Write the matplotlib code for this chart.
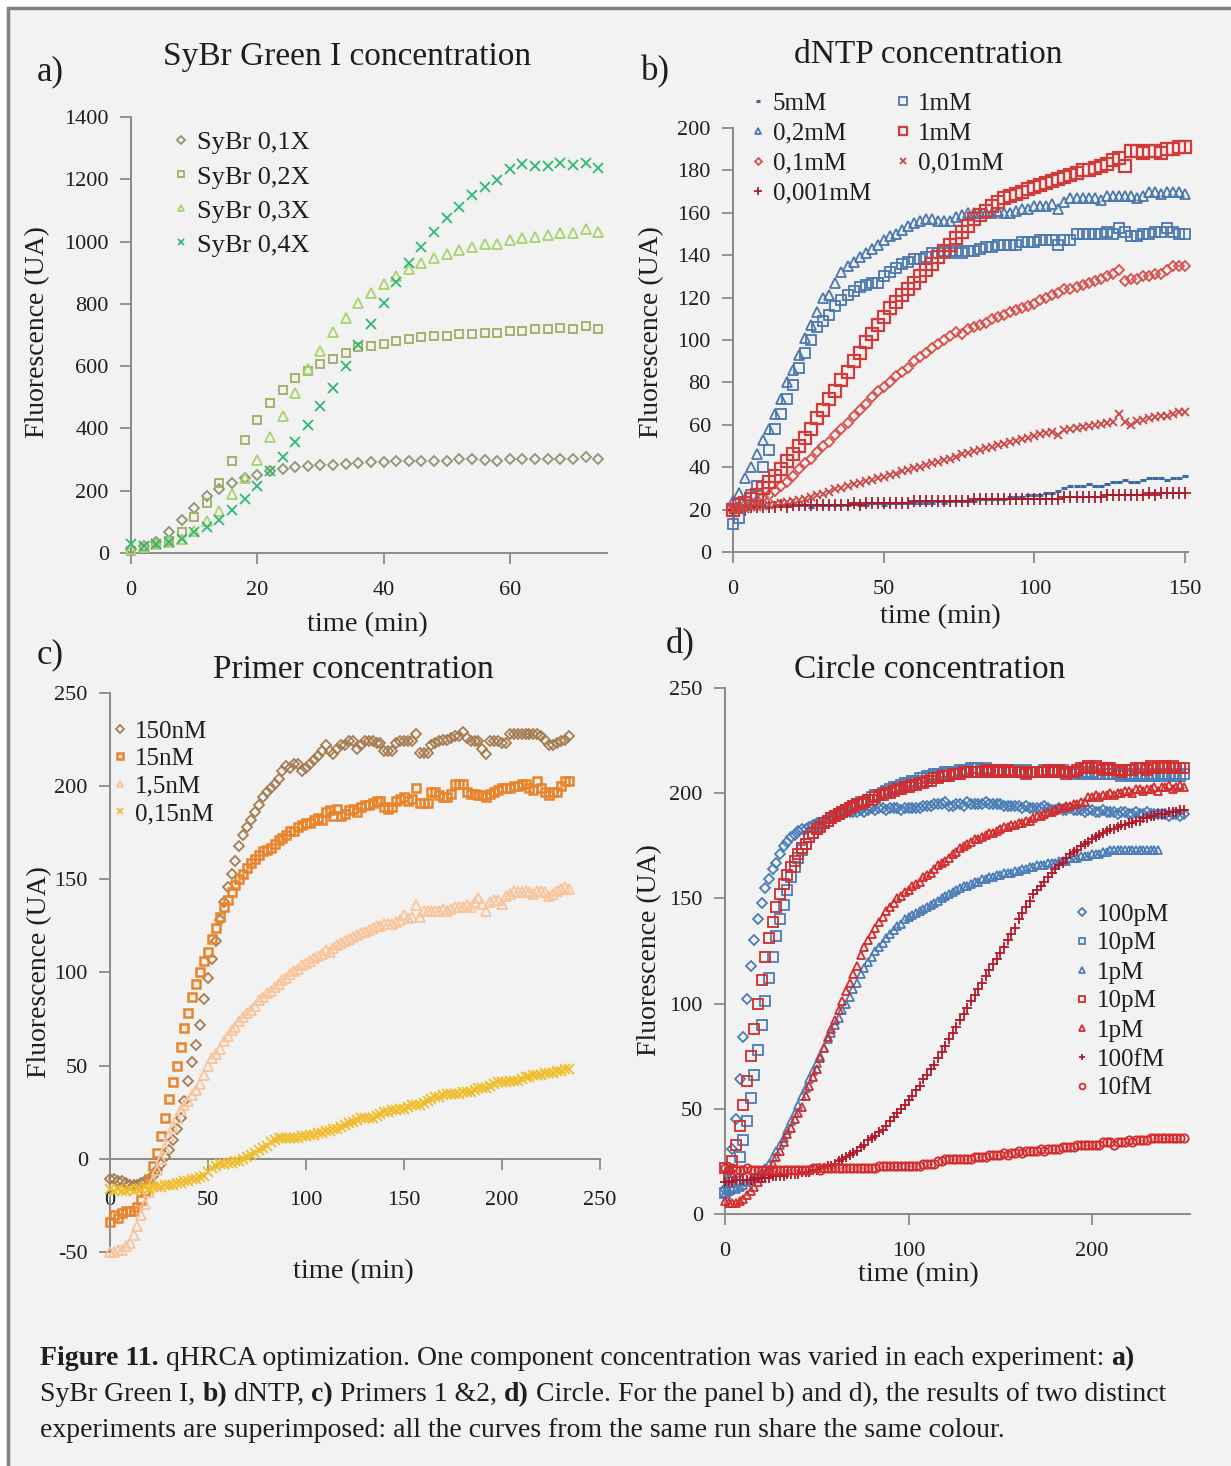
import numpy as np
import matplotlib
matplotlib.use("Agg")
import matplotlib.pyplot as plt
from matplotlib.patches import Rectangle

plt.rcParams['font.family'] = ['Liberation Serif', 'DejaVu Serif']
plt.rcParams['axes.unicode_minus'] = False

W, H = 1231, 1466
AX = '#8a8a8a'
TXT = '#1e1e1e'

# ── panel a: SyBr Green I (one reading every 2 min) ─────────────────────────
t_a = np.arange(0, 76, 2)
sybr_01 = [13, 23, 34, 69, 106, 146, 183, 207, 226, 242,
           252, 263, 270, 276, 279, 281, 284, 286, 290, 292,
           292, 297, 297, 297, 297, 297, 302, 302, 299, 297,
           302, 302, 302, 302, 302, 302, 308, 302]
sybr_02 = [7, 18, 29, 39, 68, 114, 162, 226, 297, 362,
           426, 481, 524, 563, 586, 606, 622, 641, 662, 666,
           670, 682, 687, 692, 696, 696, 702, 702, 707, 707,
           712, 714, 718, 718, 723, 718, 728, 718]
sybr_03 = [12, 20, 28, 35, 45, 70, 103, 135, 188, 242,
           300, 373, 441, 515, 590, 650, 709, 755, 804, 835,
           863, 890, 911, 931, 948, 961, 974, 983, 993, 993,
           1005, 1012, 1016, 1020, 1029, 1029, 1039, 1031]
sybr_04 = [29, 23, 29, 36, 45, 66, 82, 106, 138, 173,
           215, 263, 309, 357, 412, 471, 529, 599, 668, 735,
           804, 870, 931, 984, 1032, 1076, 1112, 1149, 1176, 1198,
           1232, 1248, 1243, 1243, 1253, 1245, 1253, 1237]

# ── panel b: dNTP ───────────────────────────────────────────────────────────
t_b = np.arange(0, 152, 2)
b_5mM = [22, 21, 22, 21, 22, 22, 21, 22, 22, 22,
         22, 22, 22, 21, 22, 22, 22, 22, 22, 22,
         23, 22, 22, 23, 23, 22, 23, 23, 23, 23,
         23, 23, 23, 23, 24, 23, 24, 24, 24, 24,
         24, 25, 25, 25, 25, 25, 26, 26, 26, 27,
         27, 27, 28, 28, 29, 30, 31, 31, 31, 32,
         31, 31, 32, 33, 33, 34, 33, 33, 34, 35,
         35, 35, 34, 35, 35, 36]
b_1mM_blue = [13, 16, 22, 27, 31, 40, 48, 58, 65, 72,
              79, 87, 94, 100, 106, 109, 112, 116, 119, 121,
              123, 125, 126, 127, 127, 130, 132, 134, 136, 137,
              138, 138, 139, 141, 141, 142, 141, 142, 141, 142,
              142, 143, 144, 144, 145, 145, 145, 145, 146, 146,
              146, 147, 147, 147, 145, 147, 147, 150, 150, 150,
              150, 150, 151, 150, 153, 151, 149, 149, 150, 150,
              151, 151, 153, 151, 150, 150]
b_02mM = [24, 28, 35, 40, 46, 53, 58, 65, 72, 80,
          86, 93, 101, 107, 113, 120, 121, 127, 132, 135,
          137, 139, 141, 143, 145, 147, 149, 150, 152, 154,
          155, 156, 157, 157, 156, 156, 156, 158, 159, 160,
          160, 160, 160, 160, 161, 160, 160, 161, 162, 162,
          163, 163, 163, 164, 162, 165, 167, 167, 167, 167,
          167, 166, 168, 168, 168, 168, 168, 167, 168, 170,
          170, 169, 170, 170, 170, 169]
b_1mM_red = [20, 22, 23, 25, 27, 30, 33, 36, 39, 43,
             46, 50, 54, 58, 63, 67, 72, 76, 81, 85,
             90, 94, 99, 103, 107, 111, 115, 118, 121, 124,
             127, 130, 133, 136, 139, 142, 145, 148, 151, 154,
             157, 159, 161, 163, 165, 167, 168, 169, 170, 171,
             172, 173, 174, 175, 176, 177, 178, 179, 180, 180,
             181, 182, 183, 185, 186, 182, 189, 189, 188, 189,
             189, 188, 190, 190, 191, 191]
b_01mM = [20, 21, 22, 23, 24, 26, 27, 29, 31, 33,
          36, 39, 42, 44, 47, 50, 52, 55, 58, 61,
          64, 67, 70, 73, 76, 78, 80, 83, 85, 87,
          90, 92, 94, 96, 98, 100, 102, 104, 103, 105,
          106, 107, 108, 110, 111, 112, 113, 114, 115, 116,
          117, 119, 120, 121, 122, 124, 124, 125, 126, 127,
          128, 129, 130, 131, 133, 128, 129, 129, 130, 130,
          131, 131, 133, 135, 135, 135]
b_001mM = [20, 20, 20.5, 21, 21, 21.5, 22, 22.5, 23, 23.5,
           24, 24.5, 25, 26, 27, 27.5, 28.5, 29.5, 30, 31,
           32, 32.5, 33.5, 34, 35, 35.5, 36.5, 37, 38, 38.5,
           39.5, 40, 41, 42, 42.5, 43.5, 44, 45, 46, 46.5,
           47.5, 48, 49, 49.5, 50.5, 51, 52, 52.5, 53.5, 54,
           54.5, 55.5, 56, 56.5, 55, 57.5, 58, 58.5, 59, 59.5,
           60, 60.5, 61, 61.5, 65, 61.5, 60, 62, 62.5, 63,
           63.5, 64, 64, 65, 66, 66]
b_0001mM = [20, 21, 20, 21, 21, 21, 21, 21, 22, 21,
            22, 22, 22, 22, 22, 22, 22, 22, 22, 22,
            23, 22, 23, 23, 23, 23, 23, 23, 23, 23,
            24, 24, 24, 24, 24, 24, 24, 24, 24, 24,
            25, 25, 25, 25, 25, 25, 25, 25, 25, 25,
            25, 25, 25, 25, 25, 26, 26, 26, 26, 26,
            26, 26, 27, 27, 27, 27, 27, 27, 27, 28,
            27, 28, 28, 28, 28, 28]

# ── panel c: primers ────────────────────────────────────────────────────────
t_c = np.arange(0, 236, 2)
c_150 = [-11, -11, -12, -12, -13, -14, -14, -14, -13, -12,
         -11, -9, -6, -3, 1, 5, 10, 16, 22, 31,
         42, 52, 61, 72, 86, 97, 107, 117, 128, 138,
         146, 153, 160, 168, 174, 178, 182, 186, 190, 194,
         197, 199, 201, 204, 208, 211, 210, 212, 212, 208,
         210, 212, 214, 216, 219, 222, 219, 217, 220, 222,
         222, 224, 224, 220, 222, 224, 224, 224, 223, 223,
         219, 219, 219, 223, 224, 224, 224, 224, 228, 218,
         218, 218, 222, 223, 224, 225, 225, 226, 227, 227,
         229, 226, 224, 224, 224, 220, 217, 224, 224, 224,
         223, 223, 228, 228, 228, 228, 228, 228, 228, 228,
         227, 225, 222, 222, 223, 224, 225, 227]
c_15 = [-34, -30, -32, -29, -28, -28, -28, -26, -22, -17,
        -11, -4, 3, 12, 22, 32, 41, 50, 60, 70,
        78, 87, 94, 100, 106, 111, 118, 124, 130, 135,
        139, 143, 147, 150, 153, 156, 159, 161, 163, 165,
        166, 167, 169, 171, 172, 174, 176, 176, 178, 179,
        180, 180, 182, 183, 182, 186, 187, 184, 188, 184,
        185, 187, 188, 186, 189, 190, 190, 191, 192, 192,
        189, 188, 189, 192, 193, 194, 192, 193, 199, 191,
        191, 191, 197, 197, 195, 194, 194, 196, 201, 201,
        201, 197, 196, 196, 195, 195, 194, 196, 197, 198,
        199, 199, 199, 200, 200, 201, 201, 199, 198, 203,
        199, 197, 195, 197, 197, 200, 203, 203]
c_1_5 = [-50, -50, -49, -49, -47, -45, -41, -36, -30, -24,
         -18, -12, -6, 0, 6, 12, 17, 22, 26, 29,
         31, 34, 37, 40, 45, 50, 54, 56, 59, 63,
         66, 69, 71, 74, 76, 78, 80, 82, 85, 87,
         89, 90, 92, 94, 96, 97, 99, 101, 102, 104,
         105, 106, 108, 109, 110, 112, 111, 113, 115, 116,
         117, 118, 119, 120, 121, 122, 123, 124, 125, 125,
         126, 126, 126, 127, 128, 131, 129, 130, 136, 130,
         133, 133, 133, 133, 133, 134, 133, 134, 135, 135,
         135, 136, 135, 138, 140, 137, 133, 138, 139, 139,
         137, 141, 142, 144, 143, 143, 144, 143, 142, 144,
         144, 143, 141, 142, 144, 145, 146, 145]
c_015 = [-16, -17, -16, -17, -17, -16, -17, -16, -16, -15,
         -16, -15, -15, -15, -14, -14, -14, -13, -13, -12,
         -12, -11, -11, -10, -9, -7, -5, -4, -3, -3,
         -2, -2, -1, -1, 0, 1, 2, 3, 5, 6,
         7, 9, 10, 11, 11, 11, 11, 11, 11, 12,
         12, 13, 13, 14, 14, 15, 15, 16, 16, 17,
         18, 19, 20, 21, 22, 22, 22, 22, 23, 24,
         25, 25, 26, 26, 27, 27, 28, 29, 29, 29,
         30, 31, 32, 33, 33, 34, 35, 35, 35, 35,
         36, 36, 36, 37, 38, 38, 38, 39, 40, 41,
         41, 41, 42, 42, 42, 43, 44, 44, 45, 45,
         45, 46, 46, 46, 47, 47, 48, 48]

# ── panel d: circle ─────────────────────────────────────────────────────────
t_d = np.arange(0, 252, 2)
d_100pM = [12, 20, 31, 45, 64, 84, 102, 118, 130, 140,
           148, 155, 159, 164, 167, 171, 175, 177, 179, 180,
           182, 183, 183, 184, 185, 186, 186, 187, 188, 188,
           189, 190, 190, 191, 191, 191, 191, 192, 191, 192,
           193, 192, 193, 193, 192, 193, 193, 193, 192, 193,
           193, 193, 193, 193, 194, 194, 194, 195, 195, 195,
           196, 194, 194, 195, 195, 194, 196, 195, 195, 195,
           195, 196, 195, 195, 195, 195, 194, 194, 194, 194,
           194, 193, 194, 193, 193, 193, 193, 194, 193, 192,
           192, 193, 192, 192, 193, 192, 192, 192, 191, 192,
           192, 191, 191, 192, 191, 191, 191, 190, 191, 191,
           190, 190, 191, 190, 190, 191, 190, 190, 190, 190,
           190, 189, 190, 190, 189, 190]
d_10pM_blue = [10, 12, 15, 20, 27, 35, 44, 55, 66, 78,
               90, 101, 112, 122, 132, 140, 147, 154, 160, 165,
               169, 173, 176, 179, 181, 183, 185, 186, 187, 188,
               189, 190, 191, 192, 193, 194, 195, 196, 196, 197,
               198, 199, 199, 200, 201, 202, 203, 203, 204, 205,
               205, 206, 206, 207, 207, 208, 208, 209, 209, 209,
               210, 210, 210, 210, 211, 211, 211, 212, 212, 212,
               211, 212, 211, 211, 211, 211, 210, 211, 210, 211,
               210, 210, 211, 210, 210, 210, 210, 211, 210, 211,
               210, 210, 211, 210, 210, 209, 210, 209, 210, 209,
               210, 209, 209, 209, 209, 209, 209, 209, 208, 209,
               209, 208, 208, 209, 208, 208, 209, 208, 208, 209,
               209, 208, 209, 208, 208, 209]
d_1pM_blue = [10, 11, 12, 12, 13, 14, 15, 16, 17, 18,
              20, 22, 24, 27, 30, 33, 36, 40, 44, 48,
              52, 56, 60, 64, 68, 72, 75, 79, 83, 86,
              90, 93, 97, 100, 103, 107, 110, 114, 117, 120,
              122, 125, 127, 129, 131, 133, 135, 137, 138, 140,
              141, 142, 143, 144, 145, 146, 147, 148, 149, 150,
              151, 152, 153, 154, 155, 156, 156, 157, 158, 158,
              159, 159, 160, 160, 161, 161, 162, 162, 162, 163,
              163, 164, 164, 165, 165, 166, 166, 166, 167, 167,
              167, 168, 168, 168, 169, 169, 169, 170, 170, 170,
              171, 171, 171, 172, 172, 173, 173, 173, 173, 173,
              173, 173, 173, 173, 173, 173, 173, 173, 173]
d_10pM_red = [22, 18, 25, 33, 42, 52, 63, 75, 88, 100,
              111, 122, 131, 139, 146, 152, 157, 161, 165, 168,
              171, 174, 176, 179, 181, 183, 184, 186, 187, 188,
              189, 190, 191, 192, 193, 194, 195, 195, 196, 197,
              197, 198, 199, 199, 200, 200, 201, 202, 202, 203,
              203, 204, 204, 205, 205, 206, 206, 207, 207, 208,
              208, 208, 209, 209, 209, 210, 210, 210, 210, 210,
              210, 211, 210, 210, 211, 210, 210, 211, 210, 210,
              210, 210, 209, 210, 210, 210, 210, 210, 211, 210,
              210, 211, 210, 209, 210, 210, 211, 212, 212, 213,
              212, 213, 212, 211, 212, 212, 211, 211, 210, 211,
              211, 211, 212, 212, 212, 211, 213, 212, 212, 213,
              213, 212, 213, 212, 212, 212]
d_1pM_red = [6, 5, 5, 5, 6, 7, 9, 11, 13, 15,
             17, 19, 21, 24, 27, 30, 34, 38, 41, 45,
             48, 51, 56, 61, 65, 69, 74, 79, 84, 88,
             92, 97, 101, 106, 110, 114, 118, 123, 127, 130,
             133, 136, 139, 141, 144, 146, 148, 150, 151, 153,
             154, 156, 157, 158, 160, 161, 162, 164, 166, 167,
             168, 169, 171, 172, 174, 175, 176, 177, 178, 178,
             179, 180, 181, 181, 182, 183, 184, 184, 185, 185,
             186, 186, 187, 187, 188, 189, 189, 190, 191, 191,
             192, 193, 193, 194, 194, 195, 195, 196, 196, 198,
             198, 199, 198, 199, 199, 200, 199, 200, 200, 201,
             201, 200, 202, 202, 201, 202, 202, 203, 201, 203,
             203, 204, 202, 203, 204, 203]
d_100fM = [15, 15, 15, 16, 16, 16, 16, 16, 17, 17,
           17, 17, 17, 18, 18, 18, 18, 19, 19, 19,
           19, 20, 20, 20, 21, 21, 22, 22, 23, 23,
           24, 25, 26, 27, 28, 29, 30, 32, 33, 35,
           36, 37, 39, 40, 42, 44, 46, 48, 50, 52,
           54, 56, 59, 61, 64, 66, 69, 71, 74, 77,
           80, 83, 86, 89, 92, 95, 98, 101, 104, 107,
           110, 113, 116, 119, 121, 124, 127, 130, 133, 136,
           140, 143, 146, 149, 152, 154, 156, 158, 160, 162,
           164, 166, 167, 169, 171, 172, 173, 175, 176, 177,
           178, 179, 180, 181, 182, 183, 183, 184, 185, 185,
           186, 186, 187, 187, 188, 188, 189, 189, 190, 190,
           190, 191, 191, 191, 192, 192]
d_10fM = [22, 21, 22, 21, 21, 21, 22, 21, 21, 21,
          21, 21, 21, 21, 21, 21, 21, 21, 21, 21,
          21, 21, 21, 21, 22, 22, 21, 22, 22, 22,
          22, 22, 22, 22, 22, 22, 22, 22, 22, 22,
          22, 22, 23, 23, 23, 23, 23, 23, 23, 23,
          23, 23, 23, 23, 24, 24, 24, 24, 25, 25,
          26, 26, 26, 26, 26, 26, 26, 26, 27, 27,
          27, 27, 28, 28, 28, 28, 29, 28, 29, 29,
          30, 29, 30, 30, 30, 30, 31, 30, 31, 31,
          31, 31, 32, 32, 32, 32, 33, 33, 33, 33,
          33, 33, 33, 34, 34, 34, 33, 34, 34, 34,
          35, 34, 35, 35, 35, 35, 36, 36, 36, 36,
          36, 36, 36, 36, 36, 36]


def rect(l, t, r, b):
    return [l / W, 1 - b / H, (r - l) / W, (b - t) / H]


def fig_text(x, y, s, **kw):
    kw.setdefault('ha', 'center')
    kw.setdefault('va', 'center')
    kw.setdefault('color', TXT)
    return fig.text(x / W, 1 - y / H, s, **kw)


def setup(ax, xlim, ylim, xticks, yticks):
    ax.set_facecolor('none')
    for s in ('top', 'right'):
        ax.spines[s].set_visible(False)
    for s in ('left', 'bottom'):
        ax.spines[s].set_color(AX)
        ax.spines[s].set_linewidth(1.4)
    ax.set_xlim(*xlim)
    ax.set_ylim(*ylim)
    ax.set_xticks(xticks)
    ax.set_yticks(yticks)
    ax.tick_params(direction='out', length=8, width=1.3, color=AX,
                   labelsize=16, labelcolor=TXT)
    ax.tick_params(axis='x', pad=12)
    ax.tick_params(axis='y', pad=8)


def pts(ax, t, y, marker, color, ms, mew=1.3, label=None, zorder=3):
    ax.plot(t[:len(y)], y, ls='none', marker=marker, ms=ms, mec=color,
            mfc='none', mew=mew, label=label, clip_on=False, zorder=zorder)


def legend(ax, x, y, ncol=1, **kw):
    opts = dict(loc='upper left', bbox_to_anchor=(x / W, 1 - y / H),
                bbox_transform=fig.transFigure, frameon=False, fontsize=18,
                handlelength=0.6, handletextpad=0.3, labelspacing=0.2,
                markerscale=0.7, borderpad=0, borderaxespad=0, ncol=ncol,
                labelcolor=TXT)
    opts.update(kw)
    return ax.legend(**opts)


fig = plt.figure(figsize=(W / 100, H / 100), dpi=100)
fig.patch.set_facecolor('white')
fig.patches.append(Rectangle((8 / W, -0.05), 1.2, 1.05 - 8 / H,
                             transform=fig.transFigure, facecolor='#f2f2f2',
                             edgecolor='#808080', lw=2.5, zorder=-10))

# ── a) SyBr Green I ─────────────────────────────────────────────────────────
ax1 = fig.add_axes(rect(131, 117, 607, 553))
setup(ax1, (0, 75.4), (0, 1400), [0, 20, 40, 60], range(0, 1401, 200))
pts(ax1, t_a, sybr_01, 'D', '#8b9672', 5.2, label='SyBr 0,1X')
pts(ax1, t_a, sybr_02, 's', '#a2ad63', 5.2, label='SyBr 0,2X')
pts(ax1, t_a, sybr_03, '^', '#a6d46e', 6.5, label='SyBr 0,3X')
pts(ax1, t_a, sybr_04, 'x', '#2fb874', 7, label='SyBr 0,4X')
legend(ax1, 173, 131, fontsize=19, labelspacing=0.4)

# ── b) dNTP ─────────────────────────────────────────────────────────────────
BLUE, RED = '#4a77ad', '#d03c3c'
ax2 = fig.add_axes(rect(733, 128, 1188, 552))
setup(ax2, (0, 151), (0, 200), [0, 50, 100, 150], range(0, 201, 20))
pts(ax2, t_b, b_5mM, '_', '#3d6a9e', 4.5, mew=2.2, label='5mM')
pts(ax2, t_b, b_02mM, '^', BLUE, 6.5, label='0,2mM')
pts(ax2, t_b, b_01mM, 'D', '#d8504a', 5, label='0,1mM')
pts(ax2, t_b, b_0001mM, '+', '#a81c2c', 8, label='0,001mM')
pts(ax2, t_b, b_1mM_blue, 's', BLUE, 7.5, label='1mM')
pts(ax2, t_b, b_1mM_red, 's', RED, 8, mew=1.6, label='1mM')
pts(ax2, t_b, b_001mM, 'x', '#cc4646', 6, label='0,01mM')
legend(ax2, 750, 92, ncol=2, columnspacing=1.0, labelspacing=0.3)

# ── c) primers ──────────────────────────────────────────────────────────────
ax3 = fig.add_axes(rect(110, 693, 600, 1252))
setup(ax3, (0, 250), (-50, 250), range(0, 251, 50), range(-50, 251, 50))
ax3.spines['bottom'].set_position(('data', 0))
ax3.tick_params(axis='x', pad=15)
pts(ax3, t_c, c_150, 'D', '#a67c52', 5.5, label='150nM')
pts(ax3, t_c, c_15, 's', '#e8842c', 5.5, mew=1.8, label='15nM')
pts(ax3, t_c, c_1_5, '^', '#f9c49a', 6.5, label='1,5nM')
pts(ax3, t_c, c_015, 'x', '#f0bd2a', 6.5, label='0,15nM')
legend(ax3, 112, 720, labelspacing=0.2)

# ── d) circle ───────────────────────────────────────────────────────────────
DB, DR = '#4a7db6', '#d42c2c'
ax4 = fig.add_axes(rect(725, 688, 1190, 1214))
setup(ax4, (0, 253.4), (0, 250), [0, 100, 200], range(0, 251, 50))
pts(ax4, t_d, d_100pM, 'D', DB, 5.2, label='100pM')
pts(ax4, t_d, d_10pM_blue, 's', DB, 7, label='10pM')
pts(ax4, t_d, d_1pM_blue, '^', DB, 6, label='1pM')
pts(ax4, t_d, d_10pM_red, 's', DR, 7, label='10pM')
pts(ax4, t_d, d_1pM_red, '^', DR, 6, label='1pM')
pts(ax4, t_d, d_100fM, '+', '#b3162a', 7, label='100fM')
pts(ax4, t_d, d_10fM, 'o', DR, 6, label='10fM')
legend(ax4, 1074, 903, labelspacing=0.26)

# ── titles, panel letters, axis labels ──────────────────────────────────────
for (x, y, s) in [(347, 57, 'SyBr Green I concentration'),
                  (928, 55, 'dNTP concentration'),
                  (353, 670, 'Primer concentration'),
                  (930, 670, 'Circle concentration')]:
    fig_text(x, y, s, fontsize=24)
for (x, y, s) in [(50, 72, 'a)'), (655, 72, 'b)'), (50, 655, 'c)'), (680, 645, 'd)')]:
    fig_text(x, y, s, fontsize=25)
for (x, y) in [(38, 332), (652, 332), (40, 972), (650, 950)]:
    fig_text(x, y, 'Fluorescence (UA)', fontsize=20, rotation=90)
for (x, y) in [(367, 625), (940, 617), (353, 1272), (918, 1275)]:
    fig_text(x, y, 'time (min)', fontsize=20.5)

# ── caption with bold runs ──────────────────────────────────────────────────
CAP = 20
renderer = fig.canvas.get_renderer()


def run_width(s, weight):
    t1 = fig.text(0, 0, s + '|', fontsize=CAP, fontweight=weight)
    t2 = fig.text(0, 0, '|', fontsize=CAP, fontweight=weight)
    w = t1.get_window_extent(renderer).width - t2.get_window_extent(renderer).width
    t1.remove()
    t2.remove()
    return w


def caption_line(y, parts):
    x = 40.0
    for s, bold in parts:
        weight = 'bold' if bold else 'normal'
        fig_text(x, y, s, fontsize=CAP, fontweight=weight, ha='left', va='baseline')
        x += run_width(s, weight)


caption_line(1365, [('Figure 11.', True),
                    (' qHRCA optimization. One component concentration was varied in each experiment: ', False),
                    ('a)', True)])
caption_line(1401, [('SyBr Green I, ', False), ('b)', True), (' dNTP, ', False),
                    ('c)', True), (' Primers 1 &2, ', False), ('d)', True),
                    (' Circle. For the panel b) and d), the results of two distinct', False)])
caption_line(1437, [('experiments are superimposed: all the curves from the same run share the same colour.', False)])

fig.savefig('out.png', dpi=100, facecolor=fig.get_facecolor())
